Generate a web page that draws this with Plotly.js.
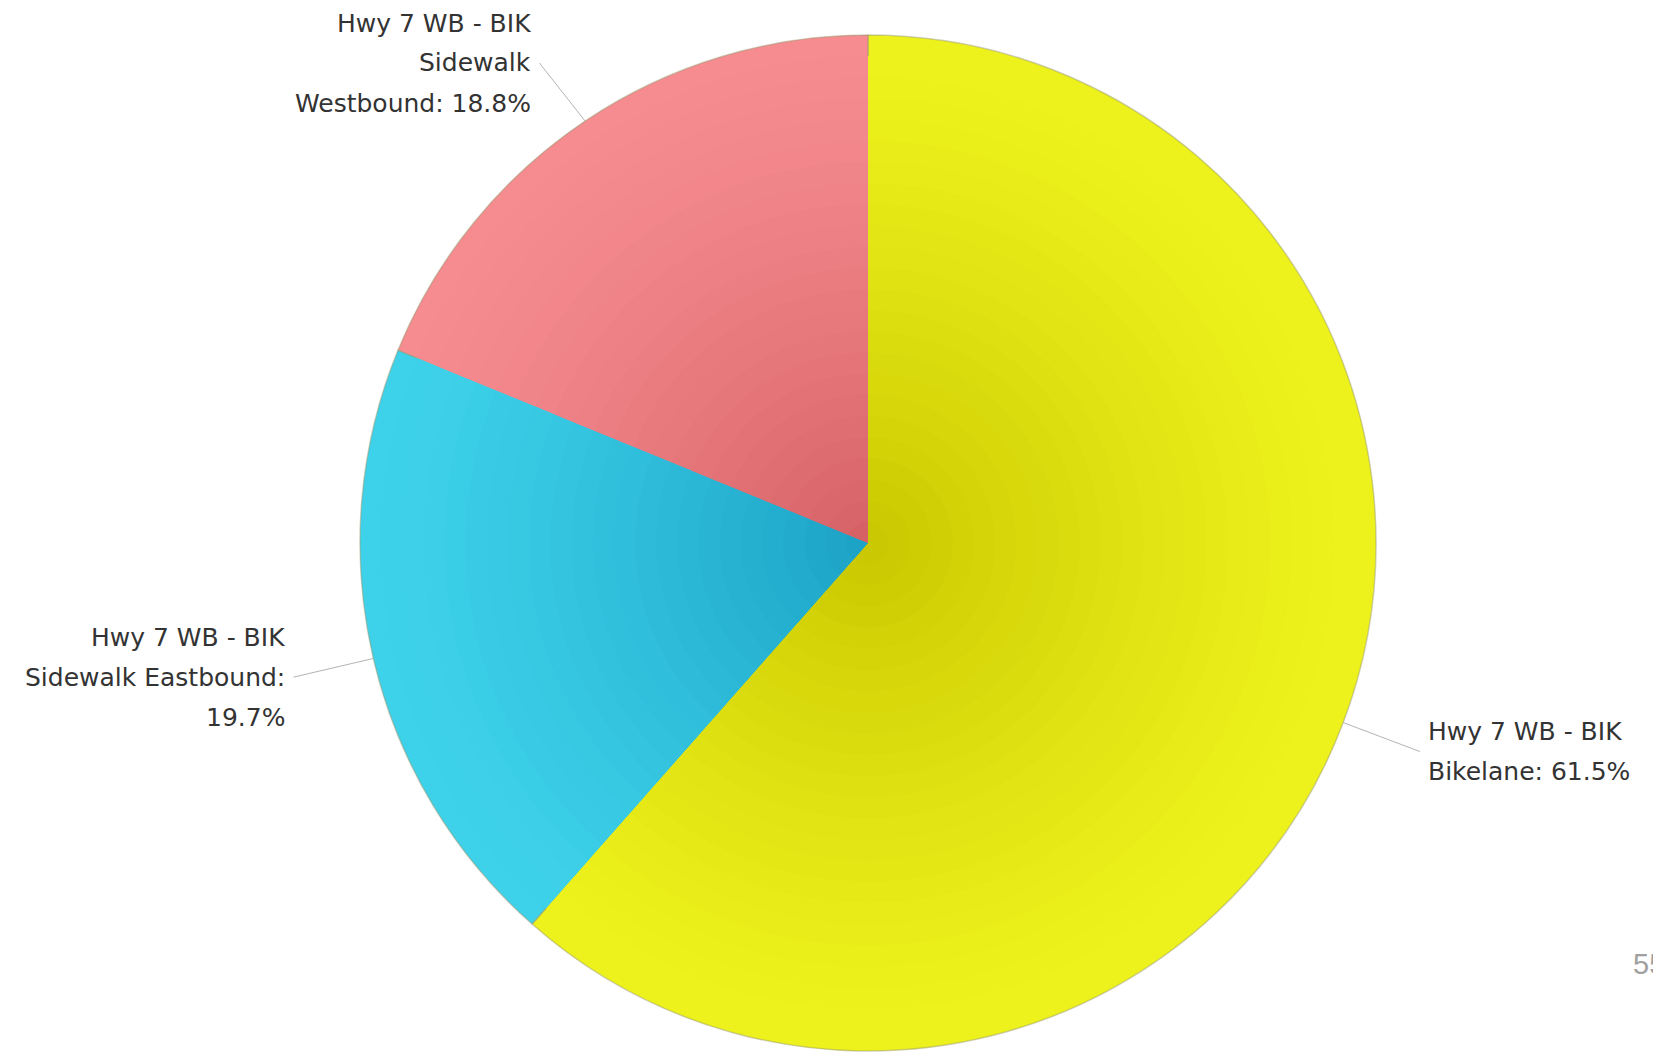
<!DOCTYPE html>
<html>
<head>
<meta charset="utf-8">
<script src="https://cdn.plot.ly/plotly-3.0.1.min.js"></script>
<style>html,body{margin:0;padding:0;background:#fff;}#chart{width:1653px;height:1057px;}</style>
</head>
<body>
<div id="chart"></div>
<script>
// ---- data ----
const categories = ["Hwy 7 WB - BIK Bikelane", "Hwy 7 WB - BIK Sidewalk Eastbound", "Hwy 7 WB - BIK Sidewalk Westbound"];
const shares = [61.5, 19.7, 18.8];
// wrapped label lines; {p} is replaced by the share
const labelLines = [
  ["Hwy 7 WB - BIK", "Bikelane: {p}%"],
  ["Hwy 7 WB - BIK", "Sidewalk Eastbound:", "{p}%"],
  ["Hwy 7 WB - BIK", "Sidewalk", "Westbound: {p}%"]
];
const pageNumber = "55";

// ---- style ----
const W = 1653, H = 1057;
const CX = 868, CY = 543, R = 508;
const outerColors = [[238, 242, 28], [62, 210, 234], [246, 140, 144]];
const innerColors = [[200, 198, 0], [26, 160, 196], [212, 96, 100]];
const LAYERS = 24;

function mix(a, b, t) {
  return 'rgb(' + a.map((v, i) => Math.round(v + (b[i] - v) * t)).join(',') + ')';
}

const traces = [];
for (let k = 0; k < LAYERS; k++) {
  const f = 1 - k / LAYERS;          // radius fraction
  const r = R * f;
  const t = Math.pow(1 - f, 1.3);
  const cols = outerColors.map((c, i) => mix(c, innerColors[i], t));
  traces.push({
    type: 'pie',
    labels: categories,
    values: shares,
    sort: false,
    direction: 'clockwise',
    rotation: 0,
    textinfo: 'none',
    hoverinfo: k === 0 ? 'label+percent' : 'skip',
    showlegend: false,
    marker: {colors: cols, line: {width: k === 0 ? 1.5 : 0, color: 'rgba(150,150,110,0.45)'}},
    domain: {
      x: [(CX - r) / W, (CX + r) / W],
      y: [(H - CY - r) / H, (H - CY + r) / H]
    }
  });
}

// ---- labels with leader lines, placed from the data ----
const total = shares.reduce((a, b) => a + b, 0);
const annotations = [];
const shapes = [];
const L = 82, GAP = 6, LINE_H = 40, TOP_LINE_MIN = 23;
let cum = 0;
shares.forEach((v, i) => {
  const mid = (cum + v / 2) / total * 2 * Math.PI;
  cum += v;
  const s = Math.sin(mid), c = Math.cos(mid);
  const x0 = CX + R * s, y0 = CY - R * c;
  const x1 = CX + (R + L) * s;
  const lines = labelLines[i].map(l => l.replace('{p}', v.toFixed(1)));
  const n = lines.length;
  // keep the label block inside the page (pushed down if needed)
  let y1 = CY - (R + L) * c;
  y1 = Math.max(y1, TOP_LINE_MIN + (n - 1) / 2 * LINE_H);
  shapes.push({type: 'line', xref: 'paper', yref: 'paper',
    x0: x0 / W, y0: 1 - y0 / H, x1: x1 / W, y1: 1 - y1 / H,
    line: {color: '#b4b4b4', width: 1}});
  const right = s > 0;
  lines.forEach((txt, j) => {
    const ly = y1 + (j - (n - 1) / 2) * LINE_H;
    annotations.push({
      xref: 'paper', yref: 'paper',
      x: (x1 + (right ? GAP : -GAP)) / W, y: 1 - ly / H,
      xanchor: right ? 'left' : 'right', yanchor: 'middle',
      text: txt, showarrow: false,
      font: {family: 'DejaVu Sans, Verdana, sans-serif', size: 25, color: '#333333'}
    });
  });
});

annotations.push({
  xref: 'paper', yref: 'paper', x: 1631 / W, y: 1 - 964 / H,
  xanchor: 'left', yanchor: 'middle', text: pageNumber, showarrow: false,
  font: {family: 'Liberation Sans Narrow, Liberation Sans, Arial, sans-serif', size: 29, color: '#a0a0a0'}
});

const layout = {
  width: W, height: H,
  margin: {l: 0, r: 0, t: 0, b: 0},
  paper_bgcolor: '#ffffff',
  showlegend: false,
  annotations: annotations,
  shapes: shapes
};

Plotly.newPlot('chart', traces, layout, {displayModeBar: false, staticPlot: true});
</script>
</body>
</html>
